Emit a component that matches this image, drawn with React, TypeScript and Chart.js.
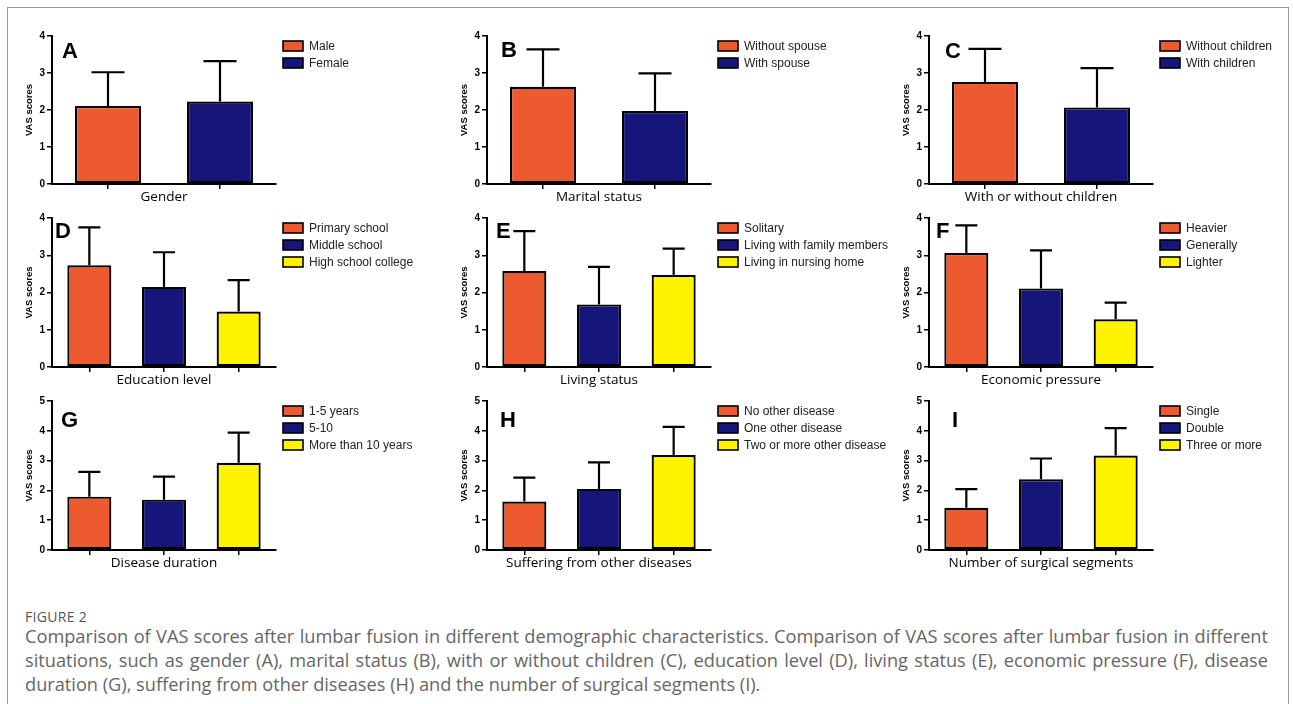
import React, { useEffect, useRef } from "react";
import { Chart, registerables } from "chart.js";

Chart.register(...registerables);

// ---------- data ----------
const yTicksFourMax = [0, 1, 2, 3, 4];
const yTicksFiveMax = [0, 1, 2, 3, 4, 5];

const genderCategories = ["Male", "Female"];
const genderMeans = [2.11, 2.23];
const genderUpper = [3.02, 3.32];

const maritalCategories = ["Without spouse", "With spouse"];
const maritalMeans = [2.63, 1.97];
const maritalUpper = [3.64, 2.99];

const childrenCategories = ["Without children", "With children"];
const childrenMeans = [2.76, 2.07];
const childrenUpper = [3.65, 3.13];

const educationCategories = ["Primary school", "Middle school", "High school college"];
const educationMeans = [2.73, 2.15, 1.49];
const educationUpper = [3.75, 3.08, 2.33];

const livingCategories = ["Solitary", "Living with family members", "Living in nursing home"];
const livingMeans = [2.58, 1.68, 2.47];
const livingUpper = [3.65, 2.69, 3.18];

const economicCategories = ["Heavier", "Generally", "Lighter"];
const economicMeans = [3.06, 2.11, 1.28];
const economicUpper = [3.8, 3.13, 1.73];

const durationCategories = ["1-5 years", "5-10", "More than 10 years"];
const durationMeans = [1.79, 1.69, 2.93];
const durationUpper = [2.62, 2.46, 3.94];

const diseaseCategories = ["No other disease", "One other disease", "Two or more other disease"];
const diseaseMeans = [1.63, 2.05, 3.19];
const diseaseUpper = [2.43, 2.94, 4.13];

const segmentCategories = ["Single", "Double", "Three or more"];
const segmentMeans = [1.42, 2.37, 3.17];
const segmentUpper = [2.04, 3.07, 4.09];

const panelLetters = ["A", "B", "C", "D", "E", "F", "G", "H", "I"];
const xTitles = [
  "Gender",
  "Marital status",
  "With or without children",
  "Education level",
  "Living status",
  "Economic pressure",
  "Disease duration",
  "Suffering from other diseases",
  "Number of surgical segments",
];
const yTitle = "VAS scores";

// ---------- styles ----------
const ORANGE = "#EE5A2F";
const NAVY = "#15157A";
const YELLOW = "#FFF300";
const BAR_COLORS = [ORANGE, NAVY, YELLOW];
const SANS = "'Liberation Sans', Arial, sans-serif";
const TITLE_FONT = "'Open Sans', 'Noto Sans', sans-serif";

type PanelDef = {
  letter: string;
  title: string;
  cats: string[];
  means: number[];
  upper: number[];
  ticks: number[];
  left: number;
  top: number;
  width: number;
  height: number;
  padRight: number;
  letterDx: number;
  letterDy: number;
};

const colLeft = [20, 455, 897];
const colWidth = [420, 445, 393];
const colPadRight = [164, 189, 137];
const rowTop = [28, 210, 393];
const rowHeight = [180, 181, 181];
const letterDx = [10, 14, 16, 3, 9, 7, 9, 13, 23];
const letterDy = [22, 21, 22, 20, 20, 20, 26, 26, 26];

const catsList = [
  genderCategories,
  maritalCategories,
  childrenCategories,
  educationCategories,
  livingCategories,
  economicCategories,
  durationCategories,
  diseaseCategories,
  segmentCategories,
];
const meansList = [
  genderMeans,
  maritalMeans,
  childrenMeans,
  educationMeans,
  livingMeans,
  economicMeans,
  durationMeans,
  diseaseMeans,
  segmentMeans,
];
const upperList = [
  genderUpper,
  maritalUpper,
  childrenUpper,
  educationUpper,
  livingUpper,
  economicUpper,
  durationUpper,
  diseaseUpper,
  segmentUpper,
];

const panels: PanelDef[] = panelLetters.map((letter, i) => {
  const r = Math.floor(i / 3);
  const c = i % 3;
  return {
    letter,
    title: xTitles[i],
    cats: catsList[i],
    means: meansList[i],
    upper: upperList[i],
    ticks: r === 2 ? yTicksFiveMax : yTicksFourMax,
    left: colLeft[c],
    top: rowTop[r],
    width: colWidth[c],
    height: rowHeight[r],
    padRight: colPadRight[c],
    letterDx: letterDx[i],
    letterDy: letterDy[i],
  };
});

function Panel({ p }: { p: PanelDef }) {
  const ref = useRef<HTMLCanvasElement>(null);
  useEffect(() => {
    const canvas = ref.current;
    if (!canvas) return;
    const colors = p.cats.map((_, i) => BAR_COLORS[i]);
    const extras = {
      id: "panelExtras",
      afterDatasetsDraw(chart: any) {
        const ctx = chart.ctx;
        const yScale = chart.scales.y;
        const meta = chart.getDatasetMeta(0);
        ctx.save();
        ctx.strokeStyle = "#000";
        ctx.lineWidth = 2.2;
        meta.data.forEach((bar: any, i: number) => {
          const yTop = yScale.getPixelForValue(p.upper[i]);
          const yBar = yScale.getPixelForValue(p.means[i]);
          const half = bar.width / 4;
          ctx.beginPath();
          ctx.moveTo(bar.x, yBar);
          ctx.lineTo(bar.x, yTop);
          ctx.moveTo(bar.x - half, yTop);
          ctx.lineTo(bar.x + half, yTop);
          ctx.stroke();
        });
        ctx.restore();
      },
      afterDraw(chart: any) {
        const ctx = chart.ctx;
        const area = chart.chartArea;
        ctx.save();
        // panel letter
        ctx.fillStyle = "#000";
        ctx.font = `bold 22px ${SANS}`;
        ctx.textBaseline = "alphabetic";
        ctx.textAlign = "left";
        ctx.fillText(p.letter, area.left + p.letterDx, area.top + p.letterDy);
        // legend
        ctx.font = `12px ${SANS}`;
        ctx.textBaseline = "middle";
        p.cats.forEach((cat, i) => {
          const bx = area.right + 7;
          const cy = area.top + 10 + 17 * i;
          ctx.fillStyle = colors[i];
          ctx.fillRect(bx, cy - 5, 20, 10);
          ctx.strokeStyle = "#000";
          ctx.lineWidth = 1.6;
          ctx.strokeRect(bx, cy - 5, 20, 10);
          ctx.fillStyle = "#222";
          ctx.fillText(cat, bx + 26, cy + 0.5);
        });
        ctx.restore();
      },
    };
    const chart = new Chart(canvas, {
      type: "bar",
      data: {
        labels: p.cats,
        datasets: [
          {
            data: p.means,
            backgroundColor: colors,
            borderColor: "#000",
            borderWidth: 2.2,
            borderSkipped: false,
            barPercentage: 0.59,
            categoryPercentage: 1,
          },
        ],
      },
      options: {
        responsive: false,
        animation: false,
        devicePixelRatio: 1,
        layout: { padding: { top: 8, right: p.padRight, left: 0, bottom: 0 } },
        plugins: {
          legend: { display: false },
          tooltip: { enabled: false },
        },
        scales: {
          x: {
            type: "category",
            offset: true,
            grid: {
              offset: false,
              drawOnChartArea: false,
              drawTicks: true,
              tickLength: 5,
              color: "#000",
              lineWidth: 1.5,
            },
            border: { display: true, color: "#000", width: 2 },
            ticks: { display: false },
            title: {
              display: true,
              text: p.title,
              font: { family: TITLE_FONT, size: 13.5 },
              color: "#000",
              padding: { top: 0, bottom: 3 },
            },
            afterFit: (s: any) => {
              s.height = 24;
            },
          },
          y: {
            min: p.ticks[0],
            max: p.ticks[p.ticks.length - 1],
            afterBuildTicks: (s: any) => {
              s.ticks = p.ticks.map((v) => ({ value: v }));
            },
            ticks: {
              font: { family: SANS, size: 10, weight: "bold" },
              color: "#000",
              padding: 2,
            },
            grid: {
              drawOnChartArea: false,
              drawTicks: true,
              tickLength: 5,
              color: "#000",
              lineWidth: 1.5,
            },
            border: { display: true, color: "#000", width: 2 },
            title: {
              display: true,
              text: yTitle,
              font: { family: SANS, size: 9.5, weight: "bold" },
              color: "#000",
              padding: { top: 4, bottom: 0 },
            },
            afterFit: (s: any) => {
              s.width = 32;
            },
          },
        },
      } as any,
      plugins: [extras],
    });
    return () => chart.destroy();
  }, [p]);
  return (
    <div style={{ position: "absolute", left: p.left, top: p.top, width: p.width, height: p.height }}>
      <canvas ref={ref} width={p.width} height={p.height} style={{ display: "block" }} />
    </div>
  );
}

const captionHeading = "FIGURE 2";
const captionLines = [
  "Comparison of VAS scores after lumbar fusion in different demographic characteristics. Comparison of VAS scores after lumbar fusion in different",
  "situations, such as gender (A), marital status (B), with or without children (C), education level (D), living status (E), economic pressure (F), disease",
  "duration (G), suffering from other diseases (H) and the number of surgical segments (I).",
];

export default function App() {
  return (
    <div
      style={{
        position: "absolute",
        left: 0,
        top: 0,
        width: 1293,
        height: 704,
        overflow: "hidden",
        background: "#fff",
      }}
    >
      <div
        style={{
          position: "absolute",
          left: 7,
          top: 7,
          width: 1282,
          height: 740,
          border: "1px solid #9a9a9a",
          boxSizing: "border-box",
        }}
      />
      {panels.map((p) => (
        <Panel key={p.letter} p={p} />
      ))}
      <div
        style={{
          position: "absolute",
          left: 25,
          top: 607,
          height: 20,
          lineHeight: "20px",
          fontFamily: TITLE_FONT,
          fontSize: 14,
          color: "#555",
          letterSpacing: 0.3,
        }}
      >
        {captionHeading}
      </div>
      <div
        style={{
          position: "absolute",
          left: 25,
          top: 624,
          width: 1243,
          fontFamily: TITLE_FONT,
          fontSize: 18.2,
          lineHeight: "24px",
          color: "#666",
        }}
      >
        {captionLines.map((line, i) => (
          <div
            key={i}
            style={{
              textAlign: i < 2 ? "justify" : "left",
              textAlignLast: i < 2 ? "justify" : "left",
              whiteSpace: "nowrap",
            }}
          >
            {line}
          </div>
        ))}
      </div>
    </div>
  );
}
